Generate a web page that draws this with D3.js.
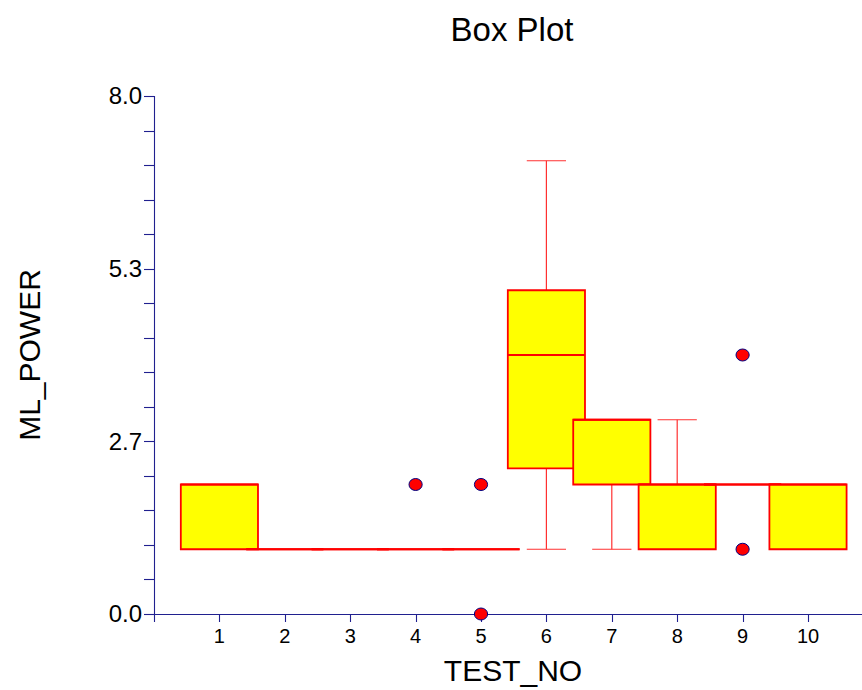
<!DOCTYPE html>
<html>
<head>
<meta charset="utf-8">
<script src="https://cdn.jsdelivr.net/npm/d3@7"></script>
<style>
  body { margin: 0; background: #fff; }
  svg text { font-family: Arial, "Liberation Sans", sans-serif; fill: #000; }
</style>
</head>
<body>
<svg id="chart" width="862" height="690"></svg>
<script>
// data
const testNo = [1, 2, 3, 4, 5, 6, 7, 8, 9, 10];
const q1 = [1, 1, 1, 1, 1, 2.25, 2, 1, 2, 1];
const median = [2, 1, 1, 1, 1, 4, 3, 2, 2, 2];
const q3 = [2, 1, 1, 1, 1, 5, 3, 2, 2, 2];
const whiskerLow = [1, 1, 1, 1, 1, 1, 1, 1, 2, 1];
const whiskerHigh = [2, 1, 1, 1, 1, 7, 3, 3, 2, 2];
const outlierTest = [4, 5, 5, 9, 9];
const outlierValue = [2, 2, 0, 4, 1];
const yMajorTicks = [0, 8 / 3, 16 / 3, 8];

const svg = d3.select("#chart");
const axisColor = "#20208f";

const x = d3.scaleLinear().domain([0, 11]).range([154, 873.4]);
const y = d3.scaleLinear().domain([0, 8]).range([614, 96]);

const boxHalf = 0.59;   // box half width, in category units
const capHalf = 0.3;

// title and axis labels
svg.append("text")
  .attr("x", 512).attr("y", 41)
  .attr("text-anchor", "middle")
  .attr("font-size", 33)
  .text("Box Plot");

svg.append("text")
  .attr("transform", "translate(40,355) rotate(-90)")
  .attr("text-anchor", "middle")
  .attr("font-size", 30)
  .text("ML_POWER");

svg.append("text")
  .attr("x", 513).attr("y", 681)
  .attr("text-anchor", "middle")
  .attr("font-size", 30)
  .text("TEST_NO");

// axes
const axes = svg.append("g").attr("stroke", axisColor).attr("stroke-width", 1.1);

axes.append("line")
  .attr("x1", x(0) + 0.5).attr("x2", x(0) + 0.5)
  .attr("y1", y(8)).attr("y2", y(0) + 8);

axes.append("line")
  .attr("x1", x(0) - 10).attr("x2", 862)
  .attr("y1", y(0) + 0.5).attr("y2", y(0) + 0.5);

// y ticks: 3 intervals, each split in 5
const yMinor = d3.range(0, 16).map(i => i * 8 / 15);
axes.selectAll(".ytick")
  .data(yMinor)
  .join("line")
  .attr("x1", x(0) - 10).attr("x2", x(0))
  .attr("y1", d => Math.round(y(d)) + 0.5)
  .attr("y2", d => Math.round(y(d)) + 0.5);

svg.selectAll(".ylabel")
  .data(yMajorTicks)
  .join("text")
  .attr("x", x(0) - 12)
  .attr("y", d => y(d))
  .attr("dy", "0.35em")
  .attr("text-anchor", "end")
  .attr("font-size", 24)
  .text(d => d.toFixed(1));

axes.selectAll(".xtick")
  .data(testNo)
  .join("line")
  .attr("x1", d => Math.round(x(d)) + 0.5)
  .attr("x2", d => Math.round(x(d)) + 0.5)
  .attr("y1", y(0)).attr("y2", y(0) + 8);

svg.selectAll(".xlabel")
  .data(testNo)
  .join("text")
  .attr("x", d => x(d))
  .attr("y", 643)
  .attr("text-anchor", "middle")
  .attr("font-size", 20)
  .text(d => d);

// boxes, drawn in order so later ones sit over earlier ones
const plot = svg.append("g");

testNo.forEach((t, i) => {
  const g = plot.append("g");
  const cx = x(t);
  const w = x(t + capHalf) - cx;

  if (whiskerHigh[i] > q3[i]) {
    g.append("line").attr("x1", cx).attr("x2", cx)
      .attr("y1", y(q3[i])).attr("y2", y(whiskerHigh[i]))
      .attr("stroke", "#ff3030").attr("stroke-width", 1.2);
    g.append("line").attr("x1", cx - w).attr("x2", cx + w)
      .attr("y1", y(whiskerHigh[i])).attr("y2", y(whiskerHigh[i]))
      .attr("stroke", "#ff3030").attr("stroke-width", 1.2);
  }
  if (whiskerLow[i] < q1[i]) {
    g.append("line").attr("x1", cx).attr("x2", cx)
      .attr("y1", y(q1[i])).attr("y2", y(whiskerLow[i]))
      .attr("stroke", "#ff3030").attr("stroke-width", 1.2);
    g.append("line").attr("x1", cx - w).attr("x2", cx + w)
      .attr("y1", y(whiskerLow[i])).attr("y2", y(whiskerLow[i]))
      .attr("stroke", "#ff3030").attr("stroke-width", 1.2);
  }

  const x0 = x(t - boxHalf), x1 = x(t + boxHalf);
  const yTop = y(q3[i]), yBot = y(q1[i]);
  g.append("path")
    .attr("d", `M${x0},${yBot}L${x0},${yTop}L${x1},${yTop}L${x1},${yBot}Z`)
    .attr("fill", "#ffff00")
    .attr("stroke", "#ff0000")
    .attr("stroke-width", 1.8);

  g.append("line")
    .attr("x1", x0).attr("x2", x1)
    .attr("y1", y(median[i])).attr("y2", y(median[i]))
    .attr("stroke", "#ff0000")
    .attr("stroke-width", 2.2);
});

// outliers
plot.selectAll(".outlier")
  .data(outlierTest.map((t, i) => ({ t: t, v: outlierValue[i] })))
  .join("ellipse")
  .attr("cx", d => x(d.t))
  .attr("cy", d => y(d.v))
  .attr("rx", 6.6)
  .attr("ry", 6)
  .attr("fill", "#ff0000")
  .attr("stroke", "#000080")
  .attr("stroke-width", 1);
</script>
</body>
</html>
